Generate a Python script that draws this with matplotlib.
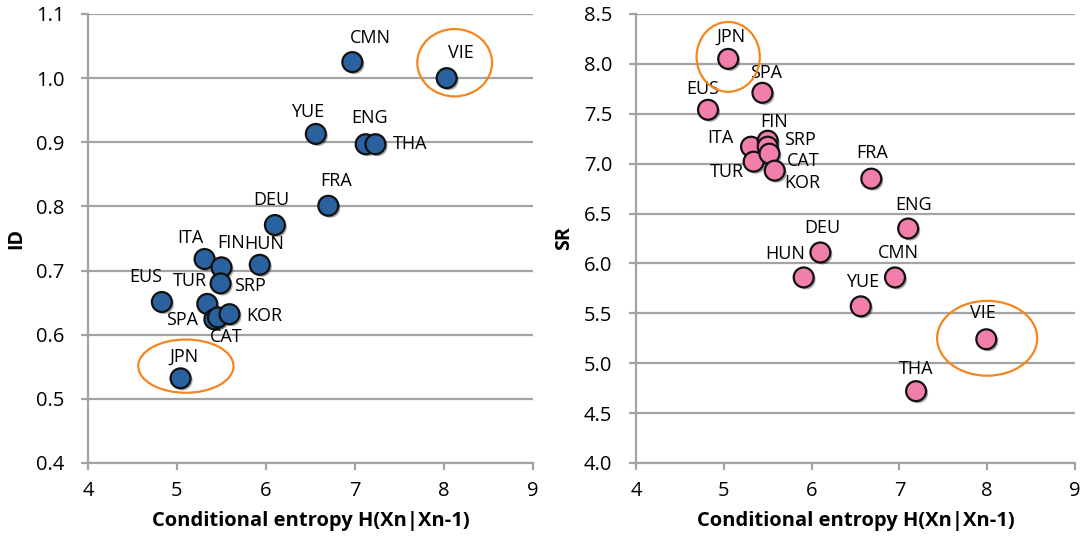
import matplotlib
matplotlib.use("Agg")
import matplotlib.pyplot as plt
import matplotlib.patheffects as pe
from matplotlib.patches import Ellipse

plt.rcParams['font.family'] = ['Open Sans', 'DejaVu Sans']

# 各语言的条件熵与两个指标
langs = ['CMN', 'VIE', 'YUE', 'ENG', 'THA', 'FRA', 'DEU', 'ITA', 'FIN',
         'HUN', 'SRP', 'EUS', 'TUR', 'SPA', 'CAT', 'KOR', 'JPN']
ent_id = [6.97, 8.03, 6.56, 7.12, 7.23, 6.70, 6.10, 5.31, 5.50,
          5.93, 5.49, 4.83, 5.34, 5.42, 5.46, 5.59, 5.04]
id_vals = [1.025, 1.000, 0.913, 0.897, 0.897, 0.801, 0.771, 0.718, 0.705,
           0.709, 0.680, 0.651, 0.648, 0.624, 0.627, 0.632, 0.532]

ent_sr = [6.95, 7.99, 6.56, 7.10, 7.19, 6.68, 6.10, 5.31, 5.50,
          5.91, 5.50, 4.82, 5.34, 5.44, 5.52, 5.58, 5.05]
sr_vals = [5.86, 5.24, 5.57, 6.35, 4.72, 6.85, 6.11, 7.17, 7.23,
           5.86, 7.17, 7.54, 7.02, 7.71, 7.10, 6.93, 8.05]

# 标签偏移（像素）
id_offsets = {
    'CMN': (18, 24), 'VIE': (14, 25), 'YUE': (-8, 22), 'ENG': (4, 26),
    'THA': (35, 0), 'FRA': (8, 25), 'DEU': (-4, 25), 'ITA': (-14, 21),
    'FIN': (10, 24), 'HUN': (4, 21), 'SRP': (29, -3), 'EUS': (-16, 25),
    'TUR': (-17, 23), 'SPA': (-32, -1), 'CAT': (8, -20), 'KOR': (35, -2),
    'JPN': (3, 22),
}
sr_offsets = {
    'CMN': (3, 24), 'VIE': (-3, 26), 'YUE': (2, 24), 'ENG': (5, 24),
    'THA': (0, 22), 'FRA': (1, 26), 'DEU': (2, 24), 'ITA': (-31, 9),
    'FIN': (6, 19), 'HUN': (-18, 23), 'SRP': (32, 7), 'EUS': (-5, 21),
    'TUR': (-27, -10), 'SPA': (4, 20), 'CAT': (34, -7), 'KOR': (28, -12),
    'JPN': (3, 22),
}

GRID = '#a3a3a3'


def style_axes(ax, ylim, yticks, ylabel):
    ax.set_xlim(4, 9)
    ax.set_ylim(*ylim)
    ax.set_xticks(range(4, 10))
    ax.set_yticks(yticks)
    ax.set_yticklabels(['%.1f' % v for v in yticks])
    ax.yaxis.grid(True, color=GRID, linewidth=1.6)
    ax.set_axisbelow(True)
    for s in ['top', 'right']:
        ax.spines[s].set_visible(False)
    for s in ['left', 'bottom']:
        ax.spines[s].set_color(GRID)
        ax.spines[s].set_linewidth(1.6)
    ax.tick_params(axis='both', colors=GRID, width=1.6, length=5,
                   labelcolor='black', labelsize=14.5)
    ax.tick_params(axis='y', pad=12)
    ax.tick_params(axis='x', pad=8)
    ax.set_xlabel('Conditional entropy H(Xn|Xn-1)', fontsize=14.5,
                  fontweight='bold', labelpad=7)
    ax.set_ylabel(ylabel, fontsize=14, fontweight='bold', labelpad=7)


def draw_points(ax, xs, ys, color, offsets):
    sc = ax.scatter(xs, ys, s=205, c=color, edgecolors='#111111',
                    linewidths=1.6, zorder=3)
    sc.set_path_effects([pe.SimplePatchShadow(offset=(1.5, -1.5),
                                              shadow_rgbFace='black',
                                              alpha=0.35),
                         pe.Normal()])
    for name, x, y in zip(langs, xs, ys):
        dx, dy = offsets[name]
        ax.annotate(name, (x, y), xytext=(dx, dy), textcoords='offset pixels',
                    ha='center', va='center', fontsize=13, zorder=4)


fig = plt.figure(figsize=(10.82, 5.40), dpi=100)

ax1 = fig.add_axes([0.0813, 0.1426, 0.4113, 0.8315])
style_axes(ax1, (0.4, 1.1), [0.4, 0.5, 0.6, 0.7, 0.8, 0.9, 1.0, 1.1], 'ID')
draw_points(ax1, ent_id, id_vals, '#2a62a0', id_offsets)
ax1.add_patch(Ellipse((8.12, 1.024), 0.84, 0.105, fill=False,
                      edgecolor='#f5861f', linewidth=1.6, zorder=5))
ax1.add_patch(Ellipse((5.10, 0.551), 1.07, 0.083, fill=False,
                      edgecolor='#f5861f', linewidth=1.6, zorder=5))

ax2 = fig.add_axes([0.5878, 0.1426, 0.4057, 0.8315])
style_axes(ax2, (4.0, 8.5), [4.0, 4.5, 5.0, 5.5, 6.0, 6.5, 7.0, 7.5, 8.0, 8.5], 'SR')
draw_points(ax2, ent_sr, sr_vals, '#f27eab', sr_offsets)
ax2.add_patch(Ellipse((5.05, 8.07), 0.72, 0.70, fill=False,
                      edgecolor='#f5861f', linewidth=1.6, zorder=5))
ax2.add_patch(Ellipse((8.00, 5.25), 1.14, 0.75, fill=False,
                      edgecolor='#f5861f', linewidth=1.6, zorder=5))

fig.savefig('out.png', dpi=100)
